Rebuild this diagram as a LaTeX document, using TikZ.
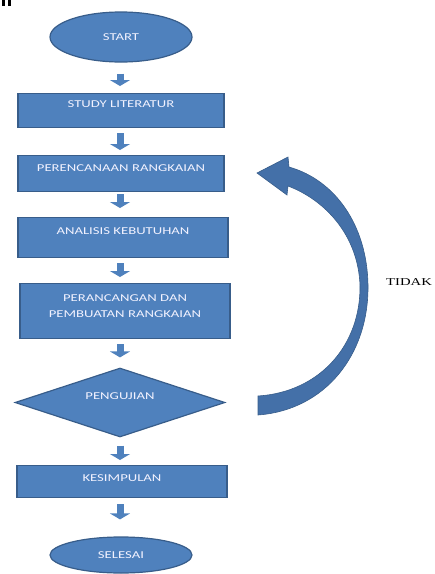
\documentclass[tikz,border=0pt]{standalone}
\usepackage{fontspec}
\setmainfont{Carlito}
\newfontfamily\boxfont[FakeStretch=1.4]{Carlito}
\newfontfamily\serffont[FakeStretch=1.4]{Liberation Serif}
\usetikzlibrary{shapes.geometric,arrows.meta}
\definecolor{fillblue}{HTML}{4F81BD}
\definecolor{edgeblue}{HTML}{385D8A}
\definecolor{curveblue}{HTML}{4470A8}
\tikzset{
  flowbox/.style={draw=edgeblue, fill=fillblue, line width=1.2pt, rectangle, anchor=north,
    inner xsep=0pt, inner ysep=0pt, text=white!95!blue, align=center,
    font=\boxfont\fontsize{10.5}{16}\selectfont},
  term/.style={draw=edgeblue, fill=fillblue, line width=1.2pt, ellipse, inner sep=0pt,
    text=white!95!blue, font=\boxfont\fontsize{10.5}{16}\selectfont},
  decide/.style={draw=edgeblue, fill=fillblue, line width=1.2pt, diamond, aspect=3, inner sep=0pt,
    text=white!95!blue, font=\boxfont\fontsize{10.5}{16}\selectfont},
  blockarrow/.style={draw=fillblue, line width=7pt,
    -{Triangle[width=20pt,length=6pt]}, shorten <=#1},
}
\begin{document}
\begin{tikzpicture}[x=1pt,y=-1pt]
\useasboundingbox (0,0) rectangle (435,574);
% cut-off fragment top-left
\fill[black] (2,0) rectangle (4.5,6);
\fill[black] (8,0) rectangle (11,6);

\coordinate (axis) at (120,0);
\node[term, minimum width=142pt, minimum height=50pt] (start) at (121,37) {START};
\node[flowbox, minimum width=206pt, text height=14pt, text depth=20pt] (study) at (121,93) {STUDY LITERATUR};
\node[flowbox, minimum width=206pt, text height=16pt, text depth=20pt] (plan) at (121,155) {PERENCANAAN RANGKAIAN};
\node[flowbox, minimum width=210pt, text height=17pt, text depth=23pt] (anal) at (123,217) {ANALISIS KEBUTUHAN};
\node[flowbox, minimum width=210pt, text height=34pt, text depth=21pt] (build) at (125,283) {PERANCANGAN DAN\\PEMBUATAN RANGKAIAN};
\node[decide, minimum width=210pt, minimum height=69pt, text height=4pt, text depth=11pt] (test) at (120,402.5) {PENGUJIAN};
\node[flowbox, minimum width=210pt, text height=16pt, text depth=16pt] (concl) at (122,465) {KESIMPULAN};
\node[term, minimum width=142pt, minimum height=36pt] (finish) at (121,555) {SELESAI};

% block arrows
\draw[blockarrow=11pt, shorten >=7pt] (start.south -| axis) -- (study.north -| axis);
\draw[blockarrow=5pt, shorten >=5pt] (study.south -| axis) -- (plan.north -| axis);
\draw[blockarrow=2pt, shorten >=9pt] (plan.south -| axis) -- (anal.north -| axis);
\draw[blockarrow=5pt, shorten >=6pt] (anal.south -| axis) -- (build.north -| axis);
\draw[blockarrow=5pt, shorten >=10pt] (build.south -| axis) -- (test.north -| axis);
\draw[blockarrow=8pt, shorten >=5pt] (test.south -| axis) -- (concl.north -| axis);
\draw[blockarrow=6pt, shorten >=17pt] (concl.south -| axis) -- (finish.north -| axis);

% curved return arrow (TIDAK)
\coordinate (tailtop) at (258,396);
\coordinate (tailbot) at (258,415);
\coordinate (tip) at (257,173);
\fill[curveblue, draw=edgeblue, line width=0.6pt]
  (tailbot) .. controls (325,410) and (369,355) .. (368,285)
  .. controls (367,225) and (335,180) .. (289,167)
  -- (288,157) -- (tip) -- (287,195) -- (288,186)
  .. controls (325,200) and (358,235) .. (360,285)
  .. controls (361,345) and (320,392) .. (tailtop) -- cycle;
\node[font=\serffont\fontsize{10.5}{12}\selectfont, anchor=west, inner sep=0pt] (tidak) at (386,282) {TIDAK};
\end{tikzpicture}
\end{document}
